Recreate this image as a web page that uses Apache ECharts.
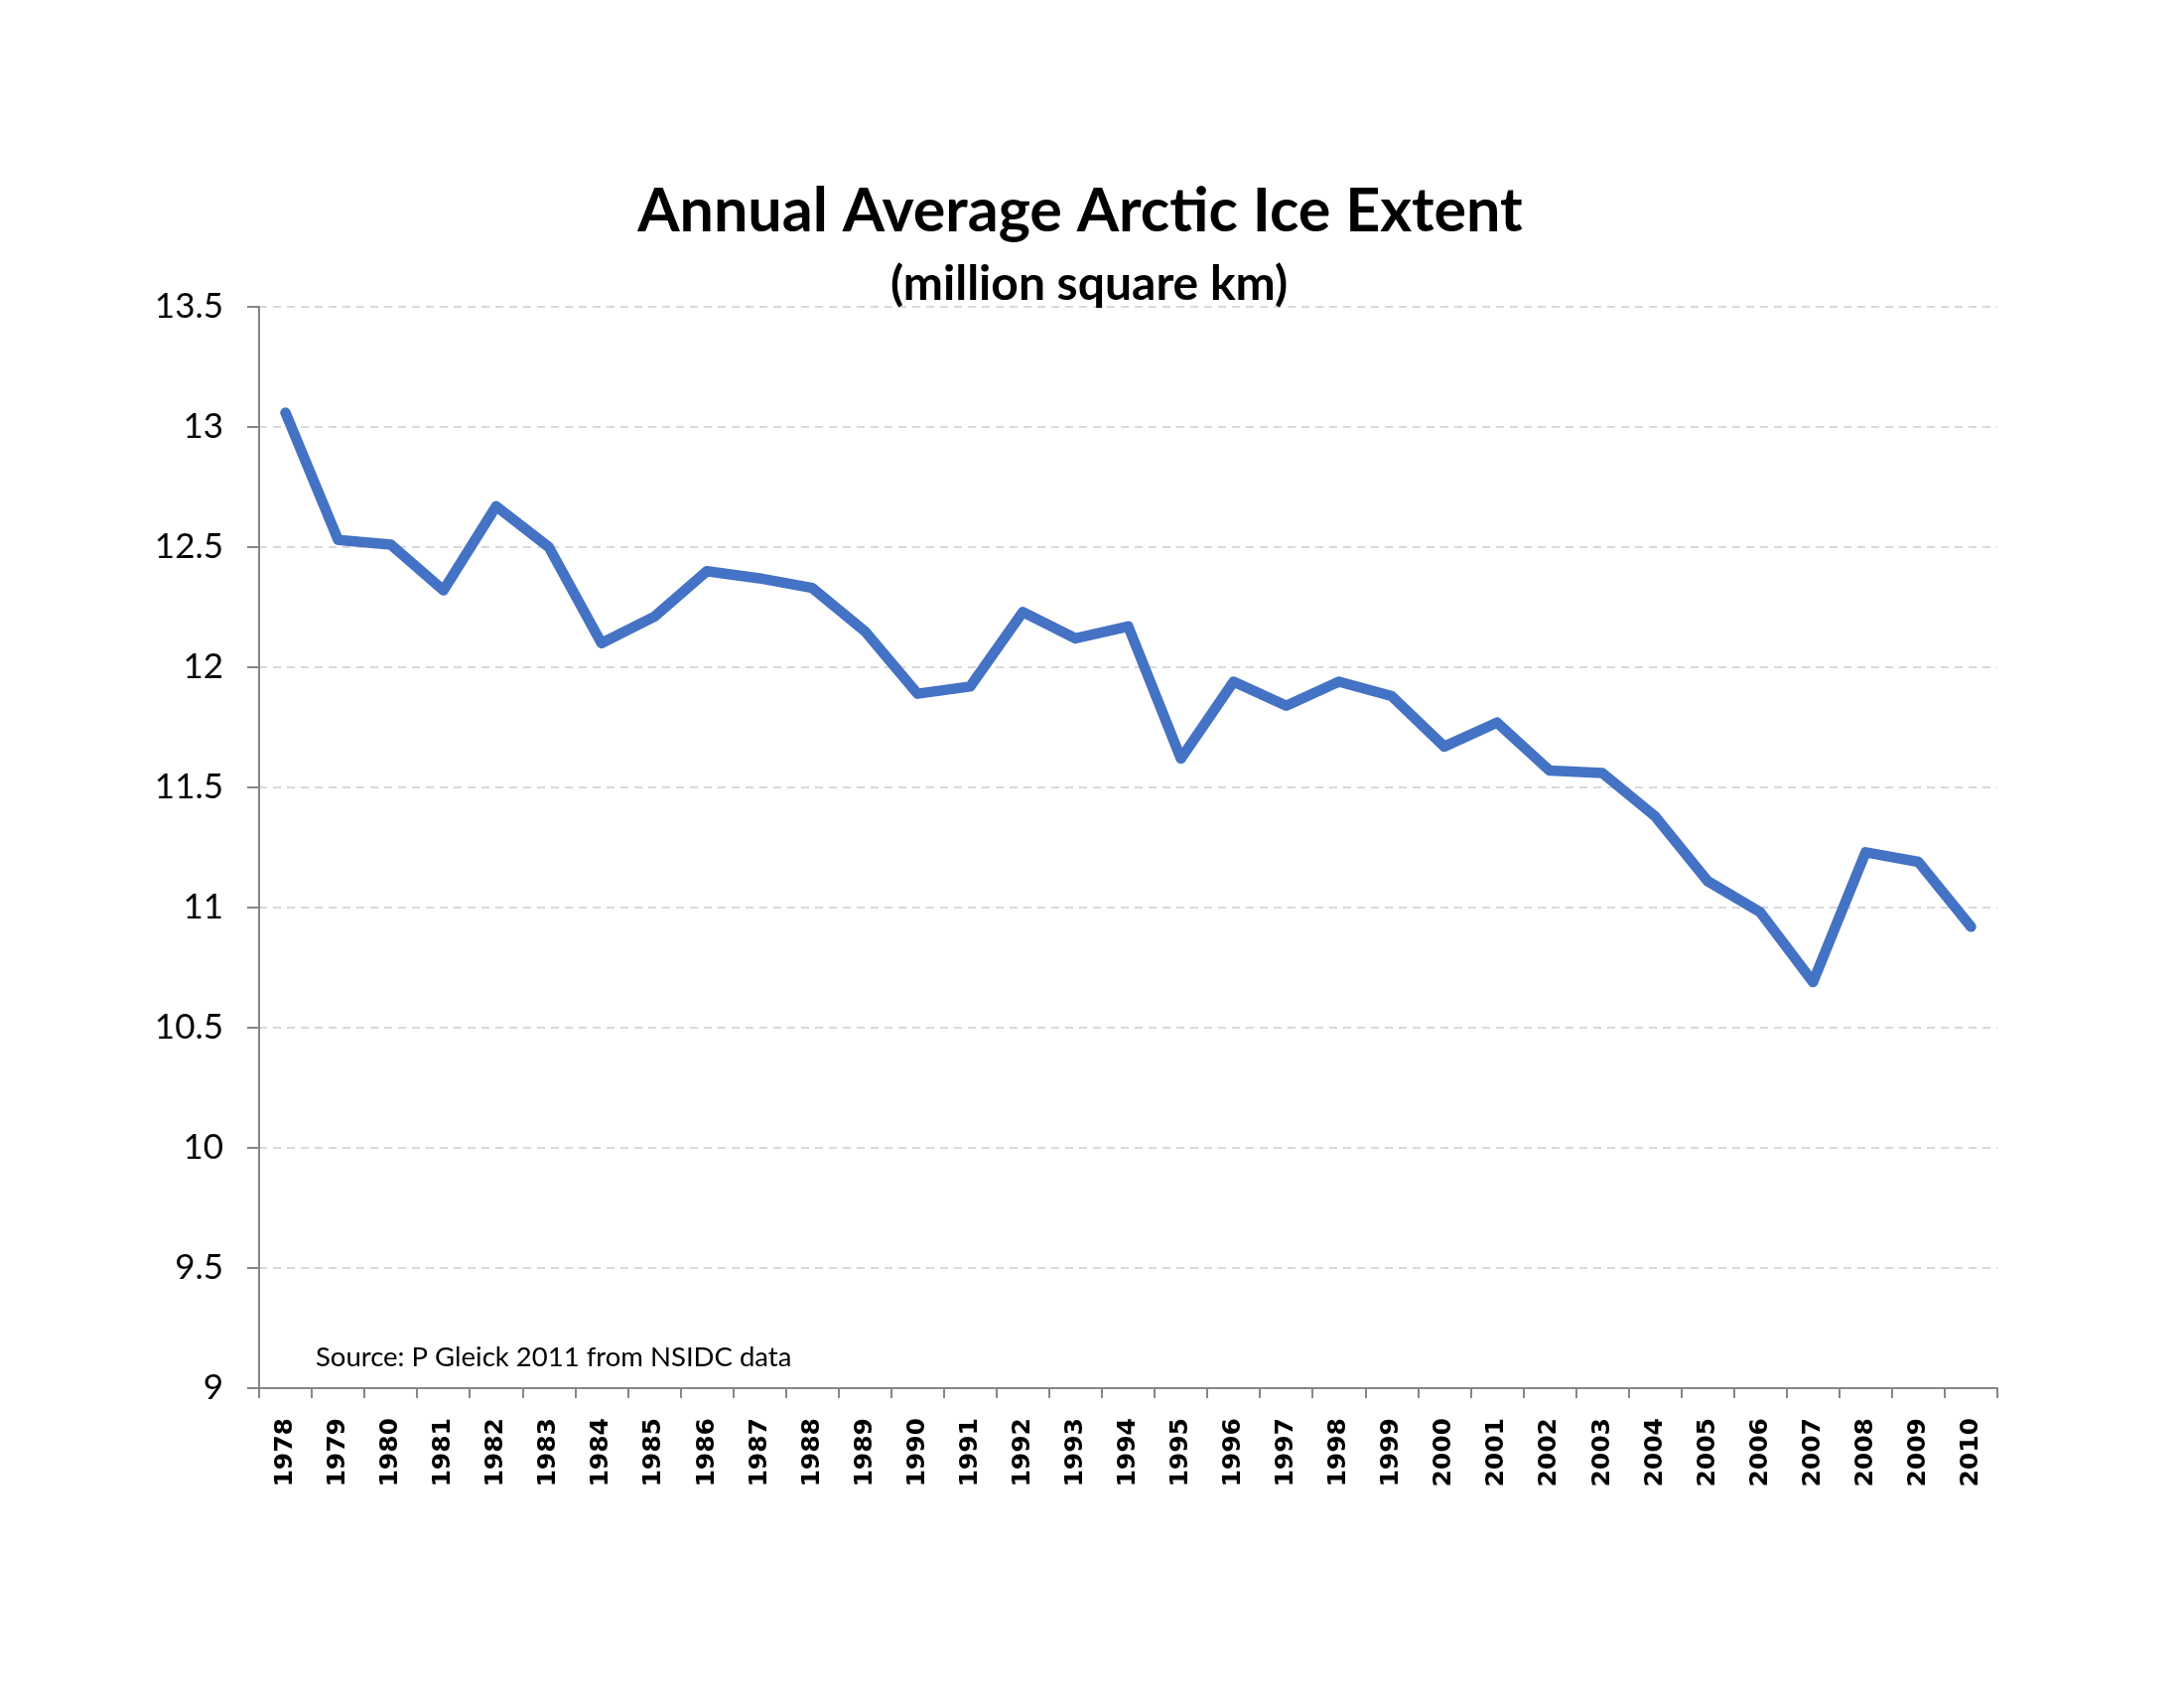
<!DOCTYPE html>
<html>
<head>
<meta charset="utf-8">
<script src="https://cdn.jsdelivr.net/npm/echarts@6/dist/echarts.min.js"></script>
<style>
html,body{margin:0;padding:0;background:#fff;}
#chart{width:2200px;height:1700px;}
</style>
</head>
<body>
<div id="chart"></div>
<script>
const years = ['1978','1979','1980','1981','1982','1983','1984','1985','1986','1987','1988','1989','1990','1991','1992','1993','1994','1995','1996','1997','1998','1999','2000','2001','2002','2003','2004','2005','2006','2007','2008','2009','2010'];
const iceExtent = [13.06,12.53,12.51,12.32,12.67,12.50,12.10,12.21,12.40,12.37,12.33,12.15,11.89,11.92,12.23,12.12,12.17,11.62,11.94,11.84,11.94,11.88,11.67,11.77,11.57,11.56,11.38,11.11,10.98,10.69,11.23,11.19,10.92];
const titleText = 'Annual Average Arctic Ice Extent';
const subtitleText = '(million square km)';
const sourceText = 'Source: P Gleick 2011 from NSIDC data';
const yMin = 9, yMax = 13.5, yStep = 0.5;

const chart = echarts.init(document.getElementById('chart'), null, {renderer:'canvas'});
chart.setOption({
  backgroundColor: '#ffffff',
  animation: false,
  title: [
    {text: titleText, left: 1083, top: 178, textAlign: 'center',
     textStyle: {fontFamily: 'Lato', fontWeight: 'bold', fontSize: 61, color: '#000'}},
    {text: subtitleText, left: 1092, top: 258, textAlign: 'center',
     textStyle: {fontFamily: 'Lato', fontWeight: 'bold', fontSize: 48, color: '#000'}}
  ],
  graphic: [
    {type: 'text', left: 318, top: 1353,
     style: {text: sourceText, font: '27.5px Lato', fill: '#000'}}
  ],
  grid: {left: 261, right: 188, top: 309, bottom: 302, containLabel: false},
  xAxis: {
    type: 'category',
    data: years,
    boundaryGap: true,
    axisLine: {lineStyle: {color: '#868686', width: 2}},
    axisTick: {show: true, length: 10, lineStyle: {color: '#868686', width: 2}, alignWithLabel: false},
    axisLabel: {rotate: 90, margin: 30, interval: 0, color: '#000',
      fontFamily: 'DejaVu Sans', fontWeight: 'bold', fontSize: 25},
    splitLine: {show: false}
  },
  yAxis: {
    type: 'value',
    min: yMin, max: yMax, interval: yStep,
    axisLine: {show: true, lineStyle: {color: '#868686', width: 2}},
    axisTick: {show: true, length: 12, lineStyle: {color: '#868686', width: 2}},
    axisLabel: {margin: 36, color: '#000', fontFamily: 'Lato', fontSize: 35},
    splitLine: {show: true, lineStyle: {color: '#D9D9D9', width: 2, type: [8, 6]}}
  },
  series: [{
    type: 'line',
    data: iceExtent,
    symbol: 'none',
    lineStyle: {color: '#4472C4', width: 10.5, cap: 'round', join: 'round'},
    z: 5
  }]
});
</script>
</body>
</html>
